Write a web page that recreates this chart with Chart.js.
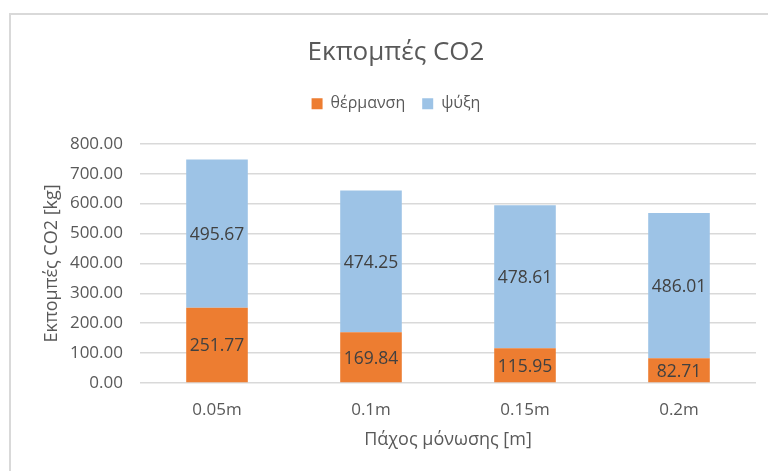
<!DOCTYPE html>
<html>
<head>
<meta charset="utf-8">
<script src="https://cdn.jsdelivr.net/npm/chart.js@4/dist/chart.umd.min.js"></script>
<style>
  html, body { margin: 0; padding: 0; background: #ffffff; }
  #wrap { position: relative; width: 768px; height: 471px; }
</style>
</head>
<body>
<div id="wrap"><canvas id="c" width="768" height="471"></canvas></div>
<script>
// Insulation thickness categories
const categories = ['0.05m', '0.1m', '0.15m', '0.2m'];
// CO2 emissions [kg] per use
const heating = [251.77, 169.84, 115.95, 82.71];
const cooling = [495.67, 474.25, 478.61, 486.01];
// Value axis ticks
const yTicks = [0, 100, 200, 300, 400, 500, 600, 700, 800];

const FONT = "'Open Sans', sans-serif";
const TEXT = '#595959';
const GRID = '#d9d9d9';

// Thin frame around the chart, plus a white background
const framePlugin = {
  id: 'frame',
  beforeDraw(chart) {
    const ctx = chart.ctx;
    ctx.save();
    ctx.fillStyle = '#ffffff';
    ctx.fillRect(0, 0, chart.width, chart.height);
    ctx.strokeStyle = GRID;
    ctx.lineWidth = 2;
    ctx.strokeRect(10, 14, chart.width + 20, chart.height + 20);
    ctx.restore();
  }
};

// Value printed in the middle of every segment
const segmentLabels = {
  id: 'segmentLabels',
  afterDatasetsDraw(chart) {
    const ctx = chart.ctx;
    ctx.save();
    ctx.font = "17.5px " + FONT;
    ctx.fillStyle = '#404040';
    ctx.textAlign = 'center';
    ctx.textBaseline = 'middle';
    chart.data.datasets.forEach((ds, i) => {
      const meta = chart.getDatasetMeta(i);
      meta.data.forEach((bar, j) => {
        const p = bar.getProps(['x', 'y', 'base'], true);
        ctx.fillText(ds.data[j].toFixed(2), p.x, (p.y + p.base) / 2 + 1.5);
      });
    });
    ctx.restore();
  }
};

new Chart(document.getElementById('c'), {
  type: 'bar',
  data: {
    labels: categories,
    datasets: [
      { label: 'θέρμανση', data: heating, backgroundColor: '#ED7D31', borderWidth: 0 },
      { label: 'ψύξη', data: cooling, backgroundColor: '#9DC3E6', borderWidth: 0 }
    ]
  },
  options: {
    responsive: false,
    animation: false,
    devicePixelRatio: 1,
    layout: { padding: { top: 0, right: 12, bottom: 0, left: 36 } },
    datasets: { bar: { barPercentage: 0.4, categoryPercentage: 1.0 } },
    plugins: {
      title: {
        display: true,
        text: 'Εκπομπές CO2',
        color: TEXT,
        font: { family: FONT, size: 26, weight: 'normal' },
        padding: { top: 37, bottom: 10.6 }
      },
      // empty spacer line between the legend and the plot
      subtitle: {
        display: true,
        text: ' ',
        weight: 500,
        font: { family: FONT, size: 10 },
        padding: { top: 10, bottom: 0 }
      },
      legend: {
        position: 'top',
        labels: {
          color: TEXT,
          font: { family: FONT, size: 16 },
          boxWidth: 11,
          boxHeight: 11,
          padding: 17
        }
      },
      tooltip: { enabled: false }
    },
    scales: {
      x: {
        stacked: true,
        grid: { display: false, drawTicks: false },
        border: { display: false },
        ticks: { color: TEXT, font: { family: FONT, size: 17 }, padding: 17 },
        title: {
          display: true,
          text: 'Πάχος μόνωσης [m]',
          color: TEXT,
          font: { family: FONT, size: 18 },
          padding: { top: 0, bottom: 20 }
        },
        afterFit(scale) { scale.height = 471 - 383; }
      },
      y: {
        stacked: true,
        min: yTicks[0],
        max: yTicks[yTicks.length - 1],
        afterBuildTicks(scale) { scale.ticks = yTicks.map(v => ({ value: v })); },
        grid: { color: GRID, lineWidth: 1.5, drawTicks: false },
        border: { display: false },
        ticks: {
          color: TEXT,
          font: { family: FONT, size: 17 },
          padding: 17,
          callback: v => Number(v).toFixed(2)
        },
        title: {
          display: true,
          text: 'Εκπομπές CO2 [kg]',
          color: TEXT,
          font: { family: FONT, size: 18 },
          padding: { top: 5, bottom: 0 }
        },
        afterFit(scale) { scale.width = 104; }
      }
    }
  },
  plugins: [framePlugin, segmentLabels]
});
</script>
</body>
</html>
